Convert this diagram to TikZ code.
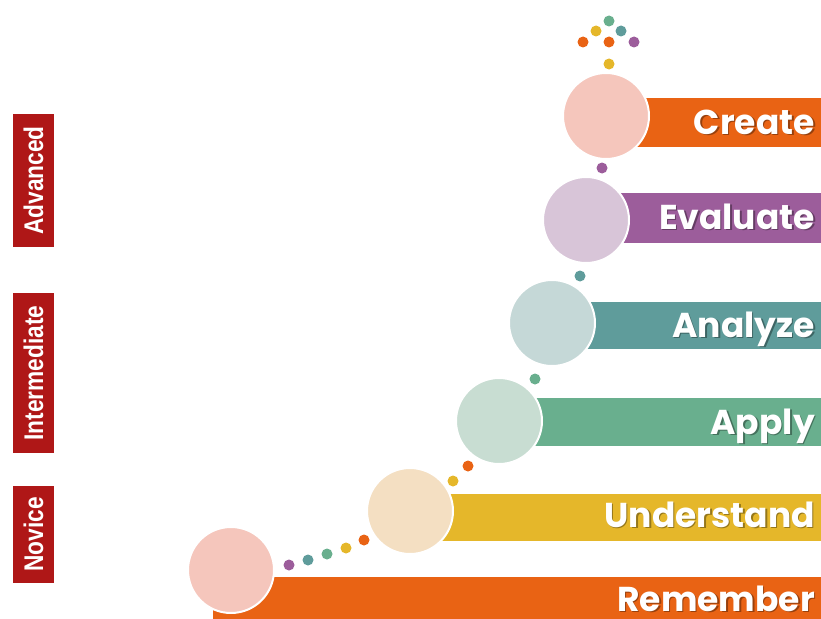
\documentclass[tikz,border=0pt]{standalone}
\usepackage{fontspec}
\newfontfamily\mainf{Poppins}
\newfontfamily\labf{Liberation Sans}[BoldFont={Liberation Sans Bold}]
\definecolor{corange}{HTML}{E96314}
\definecolor{cyellow}{HTML}{E5B72A}
\definecolor{cgreen}{HTML}{69AF8E}
\definecolor{cteal}{HTML}{5F9C9B}
\definecolor{cpurple}{HTML}{9C5D9B}
\definecolor{cred}{HTML}{AF1717}
\definecolor{lsalmon}{HTML}{F5C6BC}
\definecolor{lpurple}{HTML}{D8C5D8}
\definecolor{lteal}{HTML}{C5D8D7}
\definecolor{lgreen}{HTML}{C8DDD2}
\definecolor{ltan}{HTML}{F4DFC2}
\newcommand{\narrowtxt}[1]{\scalebox{0.84}[1]{#1}}
\begin{document}
\begin{tikzpicture}[x=1pt,y=-1pt,
  circ/.style={circle, draw=white, line width=2pt, fill=#1, minimum size=86pt, inner sep=0pt},
  dot/.style={circle, fill=#1, minimum size=11pt, inner sep=0pt, draw=none},
  bartext/.style={anchor=base east, text=white, font=\mainf\bfseries\fontsize{34.5}{36}\selectfont, inner sep=0pt},
  barshadow/.style={anchor=base east, text=black, opacity=0.35, font=\mainf\bfseries\fontsize{34.5}{36}\selectfont, inner sep=0pt},
  lvl/.style={rotate=90, fill=cred, text=white, minimum height=41pt, inner sep=0pt, font=\labf\bfseries\fontsize{27}{30}\selectfont}]
\useasboundingbox (0,0) rectangle (821,618);
\begin{scope}
\clip (0,0) rectangle (821,618);
% bars
\fill[corange] (606,98) rectangle (821,147);
\fill[cpurple] (586,193) rectangle (821,243);
\fill[cteal] (552,302) rectangle (821,349);
\fill[cgreen] (499,398) rectangle (821,446);
\fill[cyellow] (410,494) rectangle (821,541);
\fill[corange] (213,577) rectangle (821,625);
% circles
\node[circ=lsalmon] (c6) at (606,116) {};
\node[circ=lpurple] (c5) at (586,220) {};
\node[circ=lteal] (c4) at (552,323) {};
\node[circ=lgreen] (c3) at (499,421) {};
\node[circ=ltan] (c2) at (410,511) {};
\node[circ=lsalmon] (c1) at (231,570) {};
% texts
\foreach \t/\y/\n in {Create/134/t6, Evaluate/229/t5, Analyze/337/t4, Apply/434/t3, Understand/527/t2, Remember/611/t1}{
  \node[barshadow] at (816.5,\y+1.5) {\t};
  \node[bartext] (\n) at (815,\y) {\t};
}
% dots
\node[dot=cpurple] (d1) at (289,565) {};
\node[dot=cteal] (d2) at (308,560) {};
\node[dot=cgreen] (d3) at (327,554) {};
\node[dot=cyellow] (d4) at (346,548) {};
\node[dot=corange] (d5) at (364,540) {};
\node[dot=cyellow] (d6) at (453,481) {};
\node[dot=corange] (d7) at (468,466) {};
\node[dot=cgreen] (d8) at (535,379) {};
\node[dot=cteal] (d9) at (580,276) {};
\node[dot=cpurple] (d10) at (602,168) {};
\node[dot=cyellow] (d11) at (609,64) {};
\node[dot=corange] (d12) at (583,42) {};
\node[dot=corange] (d13) at (609,42) {};
\node[dot=cpurple] (d14) at (634,42) {};
\node[dot=cyellow] (d15) at (596,31) {};
\node[dot=cteal] (d16) at (621,31) {};
\node[dot=cgreen] (d17) at (609,21) {};
% level labels
\node[lvl, minimum width=133pt] (adv) at (33.5,180.5) {\narrowtxt{Advanced}};
\node[lvl, minimum width=160pt] (int) at (33.5,373) {\narrowtxt{Intermediate}};
\node[lvl, minimum width=97pt] (nov) at (33.5,534.5) {\narrowtxt{Novice}};
\end{scope}
\end{tikzpicture}
\end{document}
